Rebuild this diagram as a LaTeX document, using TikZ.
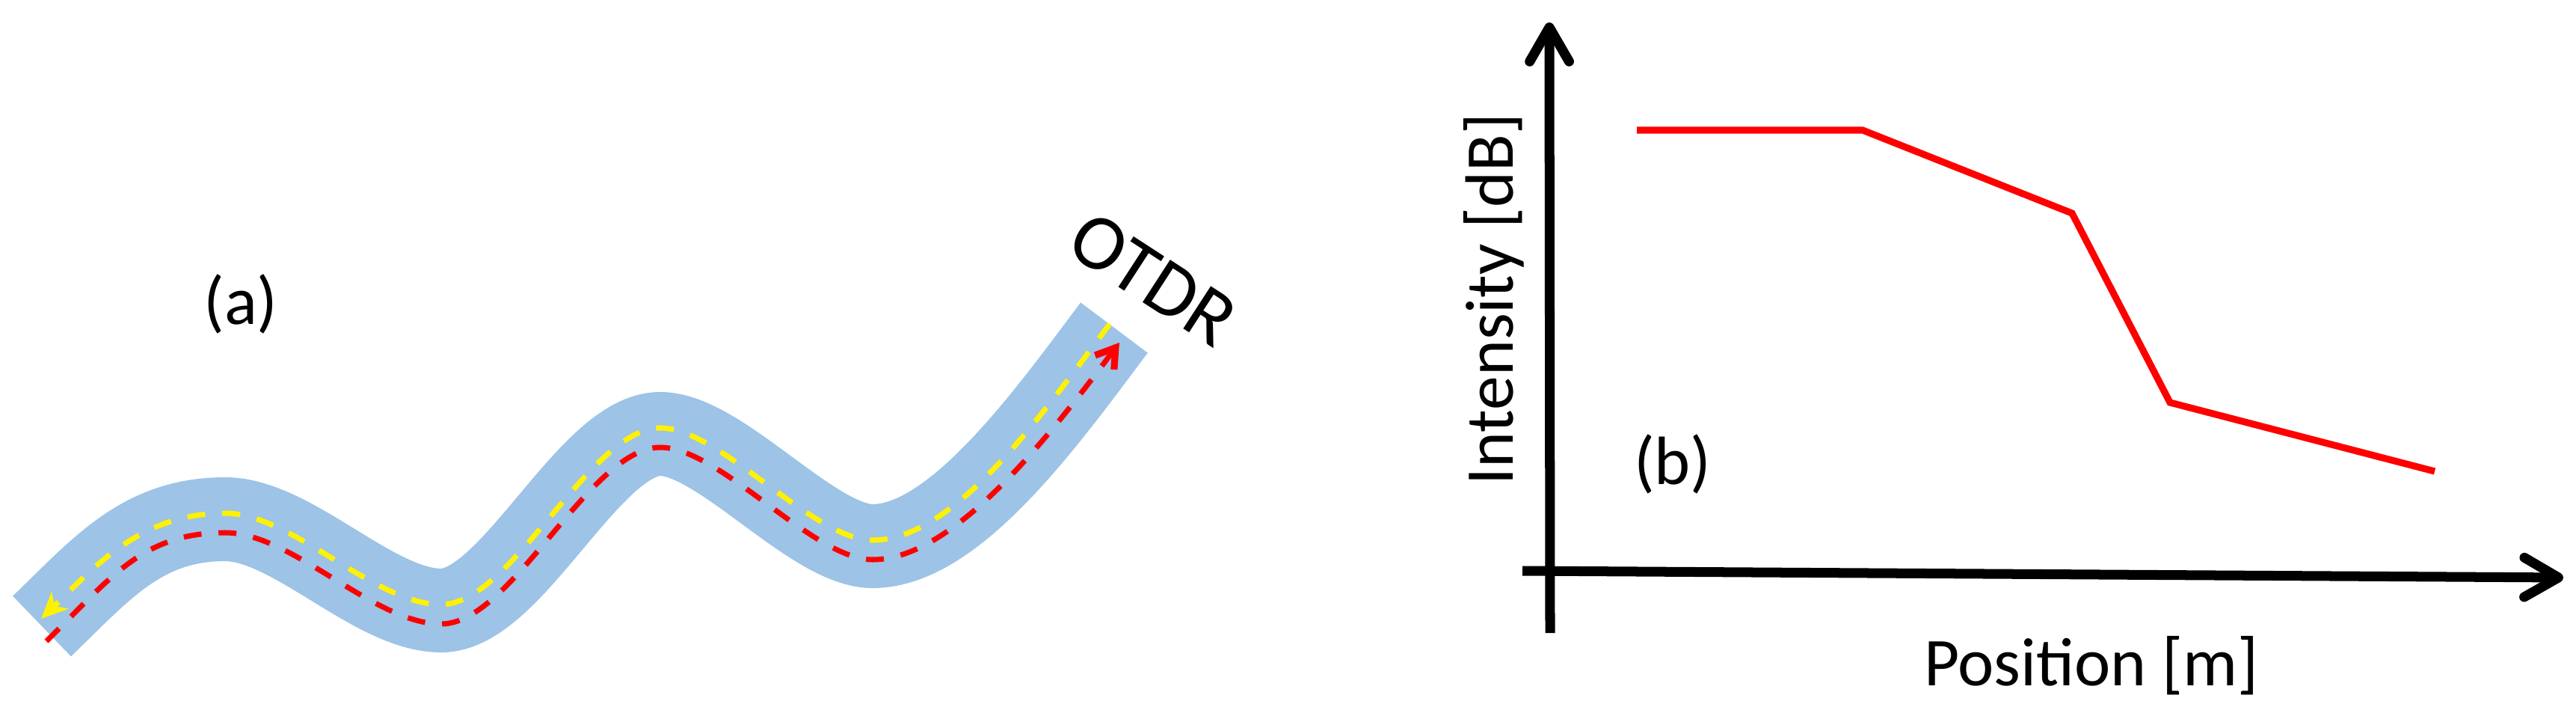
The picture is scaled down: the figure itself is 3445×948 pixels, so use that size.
\documentclass[tikz,border=0pt]{standalone}
\usepackage{fontspec}
\setmainfont{Carlito}
\usetikzlibrary{arrows.meta}
\definecolor{fiberblue}{HTML}{9DC3E6}
\begin{document}
\begin{tikzpicture}[x=0.01cm,y=-0.01cm,
  lbl/.style={font=\fontsize{26}{31}\selectfont, inner sep=0pt},
  fiber/.style={line width=1.12cm, draw=fiberblue, line cap=butt},
  pulse/.style={line width=2pt, dash pattern=on 6.8pt off 6.5pt},
  axisline/.style={line width=3.7pt, -{Straight Barb[length=13pt,width=15pt,round]}},
  trace/.style={red, line width=2.6pt, line join=miter}
]
\useasboundingbox (0,0) rectangle (3445,948);

% fibre
\draw[fiber] (56,837) .. controls (136,760) and (190,694) .. (301,694)
  .. controls (391,694) and (500,816) .. (590,816)
  .. controls (685,816) and (788,580) .. (883,580)
  .. controls (963,580) and (1087,730) .. (1167,730)
  .. controls (1277,730) and (1400,558) .. (1490,438);

% backscattered (yellow) pulse
\draw[pulse, yellow, -{Stealth[length=10pt,width=9pt,inset=3pt]}]
  (1484,433) .. controls (1394,553) and (1277,722) .. (1167,722)
  .. controls (1087,722) and (963,572) .. (883,572)
  .. controls (788,572) and (685,808) .. (590,808)
  .. controls (500,808) and (391,686) .. (301,686)
  .. controls (190,686) and (130,754) .. (55,827);

% forward (red) pulse
\draw[pulse, red, -{Straight Barb[length=7pt,width=9pt,line width=2.6pt]}]
  (62,857) .. controls (148,773) and (190,712) .. (301,712)
  .. controls (391,712) and (500,834) .. (590,834)
  .. controls (685,834) and (788,598) .. (883,598)
  .. controls (963,598) and (1087,748) .. (1167,748)
  .. controls (1277,748) and (1407,578) .. (1497,458);

\node[lbl] (la) at (322,406) {(a)};
\node[lbl, font=\fontsize{30}{36}\selectfont, rotate=-33] (otdr) at (1542,373) {OTDR};

% graph (b)
\coordinate (ybot) at (2073,846);
\coordinate (ytop) at (2072,30);
\coordinate (xleft) at (2036,763);
\coordinate (xright) at (3428,772);
\draw[axisline] (ybot) -- (ytop);
\draw[axisline] (xleft) -- (xright);

\coordinate (t1) at (2189,174);
\coordinate (t2) at (2491,174);
\coordinate (t3) at (2771,285);
\coordinate (t4) at (2902,538);
\coordinate (t5) at (3256,630);
\draw[trace] (t1) -- (t2) -- (t3) -- (t4) -- (t5);

\node[lbl, rotate=90] (ylab) at (1998,400) {Intensity [dB]};
\node[lbl] (lb) at (2237,620) {(b)};
\node[lbl] (xlab) at (2797,890) {Position [m]};
\end{tikzpicture}
\end{document}
